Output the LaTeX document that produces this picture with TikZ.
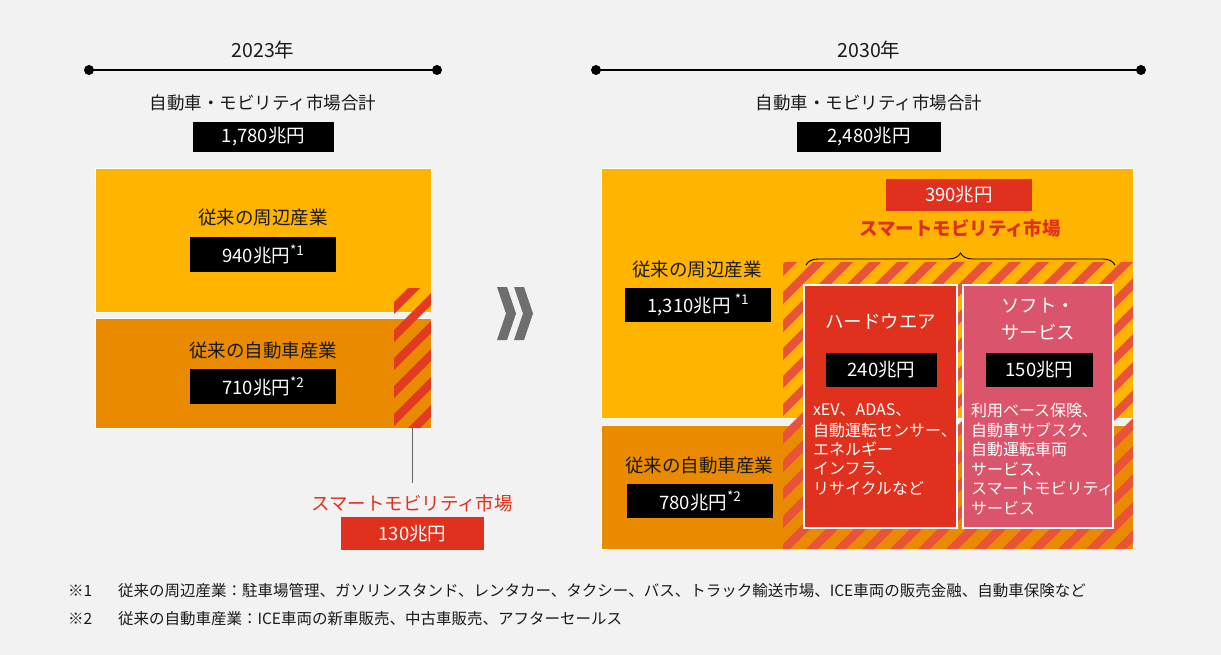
\documentclass[tikz,border=0pt]{standalone}
\usepackage{fontspec}
\setmainfont{Noto Sans CJK JP}
\usetikzlibrary{decorations.pathreplacing}
\definecolor{bg}{HTML}{F2F2F2}
\definecolor{yel}{HTML}{FFB400}
\definecolor{org}{HTML}{E98A00}
\definecolor{mred}{HTML}{E0301E}
\definecolor{stripeL}{HTML}{E33B22}
\definecolor{stripeR}{HTML}{E8533A}
\definecolor{pinkbox}{HTML}{DA546B}
\definecolor{txt}{HTML}{1A1A1A}
\definecolor{chev}{HTML}{6E6E6E}
\newcommand{\sups}[1]{\raisebox{0.42em}{\fontsize{13.5}{14}\selectfont *#1}}
\begin{document}
\begin{tikzpicture}[x=1pt,y=-1pt,
  every node/.style={inner sep=0pt,outer sep=0pt},
  sz/.style 2 args={minimum width=#1,minimum height=#2},
  area/.style={rectangle,draw=white,line width=1pt},
  blk/.style={rectangle,fill=black,text=white,font=\fontsize{18.5}{20}\selectfont},
  redbox/.style={rectangle,fill=mred,text=white,font=\fontsize{18.5}{20}\selectfont},
  lbl/.style={text=txt,font=\fontsize{18.5}{22}\selectfont},
  sub/.style={text=txt,font=\fontsize{17.5}{22}\selectfont},
  yr/.style={text=txt,font=\fontsize{19.5}{22}\selectfont},
  wl/.style={text=white,anchor=west,font=\fontsize{16}{19}\selectfont},
  wt/.style={text=white,font=\fontsize{18.5}{22}\selectfont},
  fn/.style={text=txt,anchor=west,font=\fontsize{15.5}{18}\selectfont},
  tl/.style={line width=2.5pt,draw=black},
  conn/.style={draw=black!60,line width=1.3pt},
]
\fill[bg] (0,0) rectangle (1221,655);
\useasboundingbox (0,0) rectangle (1221,655);

% ---------- 2023 ----------
\coordinate (tlA1) at (89,70);
\coordinate (tlA2) at (437,70);
\draw[tl] (tlA1) -- (tlA2);
\fill (tlA1) circle (5pt);
\fill (tlA2) circle (5pt);
\node[yr] (yA) at (263,50) {2023年};
\node[sub] (totA) at (263,103) {自動車・モビリティ市場合計};
\node[blk,sz={141}{30}] (valA) at (263.5,137) {1,780兆円};

\node[area,fill=yel,sz={336}{143}] (topL) at (263,240.5) {};
\node[area,fill=org,sz={336}{110}] (botL) at (263,373) {};
\node[sz={37}{140}] (hatchL) at (412.5,358) {};
\begin{scope}
  \clip (394,288) rectangle (431,428);
  \foreach \a in {240,268,...,440}
    \fill[stripeL] (\a,428) -- (\a+12,428) -- (\a+152,288) -- (\a+140,288) -- cycle;
\end{scope}
\node[lbl] (lTop) at (263,218) {従来の周辺産業};
\node[blk,sz={146}{35}] (vTop) at (263,254.5) {940兆円\sups{1}};
\node[lbl] (lBot) at (263,350) {従来の自動車産業};
\node[blk,sz={146}{35}] (vBot) at (263,386.5) {710兆円\sups{2}};

\coordinate (cnE) at (412.5,483);
\draw[conn] (hatchL.south) -- (cnE);
\node[lbl,text=mred] (smL) at (412,503) {スマートモビリティ市場};
\node[redbox,sz={143}{33}] (smLv) at (412.5,533.5) {130兆円};

% ---------- chevrons ----------
\fill[chev] (497,287) -- (507,287) -- (516,313.5) -- (507,340) -- (497,340) -- (506,313.5) -- cycle;
\fill[chev] (514,287) -- (524,287) -- (533,313.5) -- (524,340) -- (514,340) -- (523,313.5) -- cycle;

% ---------- 2030 ----------
\coordinate (tlB1) at (596,70);
\coordinate (tlB2) at (1141,70);
\draw[tl] (tlB1) -- (tlB2);
\fill (tlB1) circle (5pt);
\fill (tlB2) circle (5pt);
\node[yr] (yB) at (869,50) {2030年};
\node[sub] (totB) at (869,103) {自動車・モビリティ市場合計};
\node[blk,sz={144}{30}] (valB) at (869,137) {2,480兆円};

\node[area,fill=yel,sz={532}{249}] (topR) at (867,293.5) {};
\node[area,fill=org,sz={532}{124}] (botR) at (867,487) {};
\node[sz={350}{287}] (hatchR) at (958,405.5) {};
\begin{scope}
  \clip (783,262) rectangle (1133,549);
  \foreach \a in {470,498,...,1150}
    \fill[stripeR] (\a,549) -- (\a+12,549) -- (\a+299,262) -- (\a+287,262) -- cycle;
\end{scope}

\node[redbox,sz={146}{32}] (smRv) at (959,195) {390兆円};
\node[lbl,text=mred,font=\fontsize{18.5}{22}\selectfont\bfseries] (smR) at (960,228) {スマートモビリティ市場};
\coordinate (brL) at (806,265);
\coordinate (brR) at (1115,265);
\draw[decorate,decoration={brace,amplitude=12pt},line width=0.9pt] (brL) -- (brR);

\node[lbl] (lTopR) at (697,270) {従来の周辺産業};
\node[blk,sz={146}{34}] (vTopR) at (698,305) {1,310兆円 \sups{1}};
\node[lbl] (lBotR) at (699,465) {従来の自動車産業};
\node[blk,sz={146}{34}] (vBotR) at (700,501) {780兆円\sups{2}};

% hardware
\node[rectangle,draw=white,line width=2pt,fill=mred,sz={153}{243}] (hw) at (880.5,406.5) {};
\node[wt] (hwT) at (880.5,321) {ハードウエア};
\node[blk,sz={111}{34}] (hwV) at (881.5,370) {240兆円};
\node[wl] (hw1) at (813,410) {xEV、ADAS、};
\node[wl] (hw2) at (813,430) {自動運転センサー、};
\node[wl] (hw3) at (813,449.5) {エネルギー};
\node[wl] (hw4) at (813,469) {インフラ、};
\node[wl] (hw5) at (813,488.5) {リサイクルなど};

% software
\node[rectangle,draw=white,line width=2pt,fill=pinkbox,sz={150}{243}] (sw) at (1038,406.5) {};
\node[wt] (swT1) at (1038,306) {ソフト・};
\node[wt] (swT2) at (1038,332) {サービス};
\node[blk,sz={107}{34}] (swV) at (1039.5,370) {150兆円};
\node[wl] (sw1) at (971,410) {利用ベース保険、};
\node[wl] (sw2) at (971,430) {自動車サブスク、};
\node[wl] (sw3) at (971,449.5) {自動運転車両};
\node[wl] (sw4) at (971,469) {サービス、};
\node[wl] (sw5) at (971,488.5) {スマートモビリティ};
\node[wl] (sw6) at (971,508) {サービス};

% ---------- footnotes ----------
\node[fn] (fn1a) at (68,591) {※1};
\node[fn] (fn1b) at (118,591) {従来の周辺産業：駐車場管理、ガソリンスタンド、レンタカー、タクシー、バス、トラック輸送市場、ICE車両の販売金融、自動車保険など};
\node[fn] (fn2a) at (68,619) {※2};
\node[fn] (fn2b) at (118,619) {従来の自動車産業：ICE車両の新車販売、中古車販売、アフターセールス};
\end{tikzpicture}
\end{document}
